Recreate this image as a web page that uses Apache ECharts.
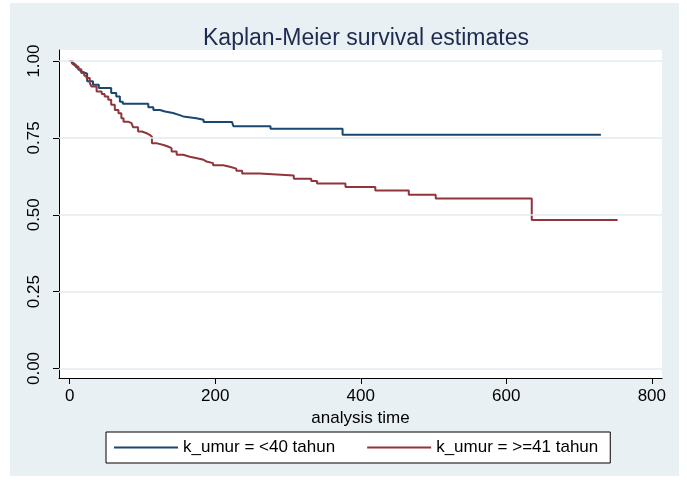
<!DOCTYPE html>
<html>
<head>
<meta charset="utf-8">
<script src="https://cdn.jsdelivr.net/npm/echarts@6.0.0/dist/echarts.min.js"></script>
<style>
html,body{margin:0;padding:0;background:#fff;}
#chart{width:687px;height:486px;}
</style>
</head>
<body>
<div id="chart"></div>
<script>
// ---- data ----
var titleText = 'Kaplan-Meier survival estimates';
var xAxisName = 'analysis time';
var seriesNames = ['k_umur = <40 tahun', 'k_umur = >=41 tahun'];
var xTicks = [0, 200, 400, 600, 800];
var yTicks = [0, 0.25, 0.5, 0.75, 1];

var blueTime = [0, 3, 6, 9, 12, 15, 18, 24, 32, 40, 57, 64, 69, 73, 108, 115, 124, 131, 142, 150, 156, 174, 184, 223, 225, 276, 375, 730];
var blueSurv = [1, 0.993, 0.986, 0.979, 0.972, 0.965, 0.959, 0.934, 0.923, 0.912, 0.896, 0.885, 0.868, 0.861, 0.850, 0.841, 0.836, 0.831, 0.825, 0.820, 0.814, 0.809, 0.802, 0.796, 0.788, 0.780, 0.760, 0.760];

var redTime = [0, 4, 8, 12, 16, 20, 23, 27.6, 30, 37, 44, 48, 53, 57, 62, 67, 71, 74, 80, 85, 87, 94, 99, 106, 110, 113, 119, 129, 135, 140, 147, 156, 165, 175, 184, 188, 197, 211, 220, 229, 237, 261, 308, 332, 340, 379, 420, 466, 503, 635, 753];
var redSurv = [1, 0.990, 0.982, 0.973, 0.961, 0.952, 0.945, 0.928, 0.917, 0.901, 0.893, 0.885, 0.874, 0.858, 0.841, 0.830, 0.814, 0.803, 0.798, 0.793, 0.785, 0.771, 0.765, 0.760, 0.754, 0.733, 0.727, 0.722, 0.717, 0.706, 0.695, 0.689, 0.684, 0.679, 0.673, 0.668, 0.661, 0.656, 0.650, 0.643, 0.634, 0.628, 0.617, 0.610, 0.602, 0.590, 0.579, 0.565, 0.553, 0.483, 0.483];

function zip(a, b) { return a.map(function (v, i) { return [v, b[i]]; }); }

var FONT = 'Liberation Sans, Arial, sans-serif';
var chart = echarts.init(document.getElementById('chart'), null, {renderer: 'canvas'});
chart.setOption({
  animation: false,
  backgroundColor: '#ffffff',
  graphic: [{
    type: 'rect', z: -10, silent: true,
    shape: {x: 10, y: 3, width: 669, height: 473},
    style: {fill: '#e9f0f3'}
  }],
  title: {
    text: titleText,
    left: 361, top: 22, textAlign: 'center',
    textStyle: {fontFamily: FONT, fontSize: 23, fontWeight: 'normal', color: '#1c2b4f'}
  },
  grid: {
    left: 59, top: 50, right: 25, bottom: 108,
    show: true, backgroundColor: '#ffffff', borderWidth: 0
  },
  legend: {
    left: 106, top: 432,
    data: seriesNames,
    icon: 'rect',
    itemWidth: 64, itemHeight: 2, itemGap: 32,
    padding: [7, 12, 7, 8],
    borderColor: '#000', borderWidth: 1, backgroundColor: '#ffffff', borderRadius: 0,
    textStyle: {fontFamily: FONT, fontSize: 17, color: '#000'}
  },
  xAxis: {
    type: 'value', min: -14.7, max: 814,
    name: xAxisName, nameLocation: 'middle', nameGap: 32,
    nameTextStyle: {fontFamily: FONT, fontSize: 17, color: '#000'},
    axisLine: {show: true, onZero: false, lineStyle: {color: '#000', width: 1}},
    axisTick: {show: true, length: 6, lineStyle: {color: '#000'}, customValues: xTicks},
    axisLabel: {fontFamily: FONT, fontSize: 17, color: '#000', margin: 10, customValues: xTicks},
    splitLine: {show: false}
  },
  yAxis: {
    type: 'value', min: -0.031, max: 1.036,
    axisLine: {show: true, onZero: false, lineStyle: {color: '#000', width: 1}},
    axisTick: {show: true, length: 6, lineStyle: {color: '#000'}, customValues: yTicks},
    axisLabel: {
      fontFamily: FONT, fontSize: 17, color: '#000', margin: 16, rotate: 90,
      customValues: yTicks,
      formatter: function (v) { return v.toFixed(2); }
    },
    splitLine: {show: false}
  },
  series: [
    {
      name: '__grid', type: 'line', data: [], z: 1, silent: true,
      markLine: {
        silent: true, symbol: 'none', label: {show: false},
        lineStyle: {color: '#e3ebee', width: 1.5, type: 'solid'},
        data: yTicks.map(function (v) { return {yAxis: v}; })
      }
    },
    {
      name: seriesNames[0], type: 'line', step: 'end', showSymbol: false, symbol: 'none',
      data: zip(blueTime, blueSurv), z: 3,
      lineStyle: {color: '#1a476f', width: 2}, itemStyle: {color: '#1a476f'}
    },
    {
      name: seriesNames[1], type: 'line', step: 'end', showSymbol: false, symbol: 'none',
      data: zip(redTime, redSurv), z: 3,
      lineStyle: {color: '#90353b', width: 2}, itemStyle: {color: '#90353b'}
    }
  ]
});
</script>
</body>
</html>
